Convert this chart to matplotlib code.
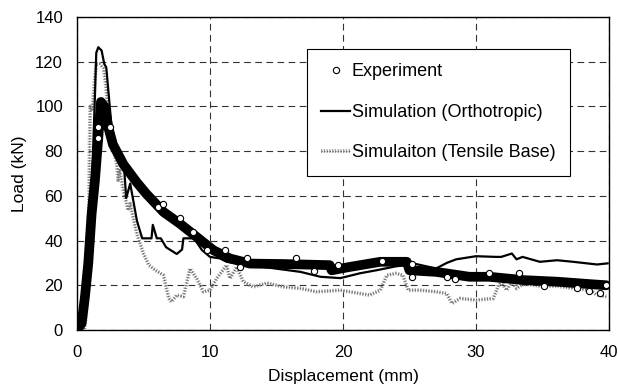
import matplotlib
matplotlib.use("Agg")
import matplotlib.pyplot as plt
import matplotlib.patheffects as pe

plt.rcParams['font.family'] = ['Liberation Sans', 'DejaVu Sans']

# Experiment: centre of the dense band of markers
exp_x = [0, 0.35, 0.6, 0.85, 1.1, 1.35, 1.6, 1.8, 2.1, 2.35, 2.7, 3.5, 4.0, 4.5, 5.2,
         6.5, 7.75, 9.0, 10.25, 11.5, 13.0, 15.5, 19.0, 19.15, 20.5, 22.0, 22.8, 24.8,
         25.0, 27.0, 29.5, 31.0, 33.6, 36.1, 38.6, 39.8]
exp_y = [0, 3, 15, 30, 52, 67, 86, 102, 99.6, 90.7, 83, 74, 70, 66, 61,
         52.8, 47.5, 41.6, 35.7, 32, 29.7, 29.5, 29, 26.7, 28.2, 29.7, 30.5, 30.5,
         26.7, 26, 23.8, 23.8, 22.3, 21.6, 20.5, 20]
# Experiment: individual markers off the band
pts_x = [1.55, 1.6, 2.5, 6.1, 6.5, 7.75, 8.75, 9.75, 11.1, 12.25, 12.75, 16.5, 17.8,
         19.65, 22.9, 25.2, 25.2, 27.8, 28.4, 31.0, 33.25, 35.1, 37.6, 38.5, 39.3, 39.8]
pts_y = [86, 90.7, 91, 55, 56.5, 50, 43.8, 35.7, 35.7, 28.2, 32.4, 32.4, 26.3,
         29, 30.9, 29.4, 23.8, 23.8, 23, 25.5, 25.5, 19.6, 18.6, 17.4, 16.6, 20]

# Simulation (Orthotropic)
ort_x = [0, 0.4, 0.7, 0.95, 1.15, 1.35, 1.45, 1.6, 1.85, 2.05, 2.2, 2.6, 3.0, 3.5, 3.7,
         4.0, 4.5, 4.9, 5.6, 5.7, 6.0, 6.3, 6.7, 7.5, 7.9, 8.0, 8.4, 8.8, 9.4, 10.0,
         10.75, 11.25, 13.0, 16.8, 18.3, 19.8, 21.3, 22.5, 24.0, 25.5, 27.0, 27.8,
         28.5, 30.0, 31.5, 31.9, 32.7, 33.05, 33.5, 34.8, 36.1, 37.3, 39.1, 39.9]
ort_y = [0, 2, 15, 40, 70, 105, 124, 126.5, 125, 119, 117.5, 90.7, 82, 76, 59,
         65.5, 49, 41, 41, 47, 41, 41, 37, 34, 36, 41, 41, 41, 35.7, 32.7,
         32, 30.5, 29, 26, 23.8, 23.2, 25.4, 26.7, 28.5, 29.5, 27.5, 30,
         31.6, 33, 32.7, 32.7, 34.2, 31.6, 32.7, 30.5, 31.2, 30.5, 29.3, 29.8]

# Simulaiton (Tensile Base)
ten_x = [0, 0.55, 0.7, 0.8, 0.9, 0.95, 1.0, 1.15, 1.3, 1.45, 1.7, 2.0, 2.2, 2.35, 2.6,
         3.0, 3.1, 3.2, 3.5, 3.85, 4.0, 4.5, 5.0, 5.4, 5.9, 6.5, 6.9, 7.1, 7.5, 8.0,
         8.5, 9.0, 9.5, 10.0, 10.5, 11.25, 11.5, 12.0, 12.5, 13.25, 14.3, 15.5, 16.8,
         18.0, 19.8, 21.3, 22.0, 22.8, 23.3, 24.0, 24.5, 24.9, 25.8, 27.0, 27.8, 28.2,
         28.8, 30.0, 31.3, 31.7, 31.9, 32.3, 32.7, 33.05, 33.6, 34.8, 36.1, 37.3,
         38.6, 39.1, 39.8]
ten_y = [0, 0, 8, 25, 55, 85, 100, 98, 110, 119, 119, 117, 108, 96, 85,
         74, 67, 72, 62, 53.5, 56.5, 43, 34.2, 29, 26.7, 24.5, 14.1, 12.6, 15.6, 14.9,
         27.5, 23, 17.1, 17.8, 23, 29, 23, 28.2, 21.6, 19.3, 21, 19.3, 18.6,
         17.1, 17.8, 16.3, 15.6, 17.8, 24.5, 25.3, 24.5, 17.8, 17.8, 17.1, 16.3, 11.9,
         14.1, 13.4, 14.1, 20, 21.6, 17.8, 21.6, 18.6, 20.8, 19.6, 19.6, 18.6,
         17.8, 15.6, 14.9]

fig = plt.figure(figsize=(6.18, 3.89), dpi=100)
ax = fig.add_axes([0.1246, 0.1517, 0.8608, 0.8046])

ax.plot(ten_x, ten_y, color='#666666', lw=0.9, ls=(0, (1, 1.2)),
        path_effects=[pe.Stroke(linewidth=2.8, foreground='#a0a0a0'), pe.Normal()],
        label='Simulaiton (Tensile Base)', zorder=3)
ax.plot(ort_x, ort_y, color='black', lw=1.6, label='Simulation (Orthotropic)', zorder=4)
ax.plot(exp_x, exp_y, color='black', lw=7, solid_capstyle='round',
        solid_joinstyle='round', zorder=5, label='_nolegend_')
ax.plot(pts_x, pts_y, 'o', mfc='white', mec='black', ms=4.5, mew=0.8,
        label='Experiment', zorder=6)

ax.set_xlim(0, 40)
ax.set_ylim(0, 140)
ax.set_xticks([0, 10, 20, 30, 40])
ax.set_yticks(range(0, 141, 20))
ax.grid(True, color='#333333', lw=0.8, dashes=(6, 4))
ax.set_axisbelow(True)
ax.tick_params(length=0, labelsize=12)
ax.tick_params(axis='x', pad=11)
ax.tick_params(axis='y', pad=10)
for s in ax.spines.values():
    s.set_color('black')
    s.set_linewidth(1.0)
ax.set_xlabel('Displacement (mm)', fontsize=12.5, labelpad=6)
ax.set_ylabel('Load (kN)', fontsize=12.5, labelpad=6)

h, l = ax.get_legend_handles_labels()
order = [2, 1, 0]
leg = ax.legend([h[i] for i in order], [l[i] for i in order],
                loc='upper left', bbox_to_anchor=(0.432, 0.898), borderaxespad=0,
                fontsize=13, frameon=True, fancybox=False, edgecolor='black',
                framealpha=1, labelspacing=1.3, handlelength=1.6,
                handletextpad=0.1, borderpad=0.8)
leg.get_frame().set_linewidth(0.8)
leg.set_zorder(10)

fig.savefig('out.png', dpi=100)
